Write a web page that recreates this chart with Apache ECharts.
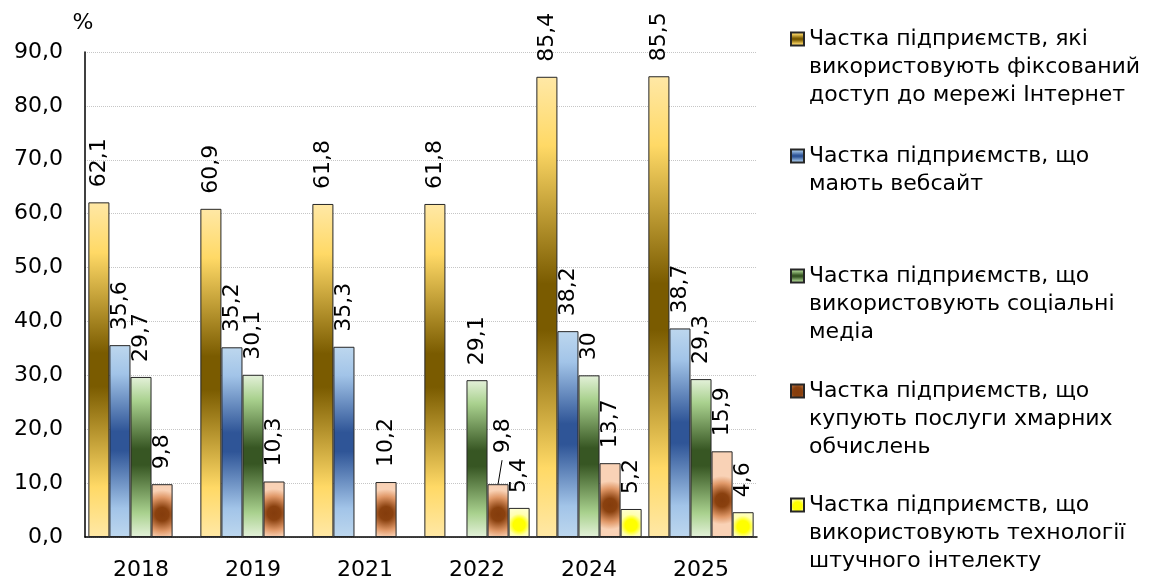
<!DOCTYPE html>
<html>
<head>
<meta charset="utf-8">
<script src="https://cdn.jsdelivr.net/npm/echarts@6/dist/echarts.min.js"></script>
<style>
html,body{margin:0;padding:0;background:#fff;}
#chart{width:1153px;height:581px;}
</style>
</head>
<body>
<div id="chart"></div>
<script>
const categories = ['2018', '2019', '2021', '2022', '2024', '2025'];
const internetValues = [62.1, 60.9, 61.8, 61.8, 85.4, 85.5];
const websiteValues = [35.6, 35.2, 35.3, null, 38.2, 38.7];
const socialValues = [29.7, 30.1, null, 29.1, 30, 29.3];
const cloudValues = [9.8, 10.3, 10.2, 9.8, 13.7, 15.9];
const aiValues = [null, null, null, 5.4, 5.2, 4.6];
const yTicks = [0, 10, 20, 30, 40, 50, 60, 70, 80, 90];

const seriesNames = [
  'Частка підприємств, які\nвикористовують фіксований\nдоступ до мережі Інтернет',
  'Частка підприємств, що\nмають вебсайт',
  'Частка підприємств, що\nвикористовують соціальні\nмедіа',
  'Частка підприємств, що\nкупують послуги хмарних\nобчислень',
  'Частка підприємств, що\nвикористовують технології\nштучного інтелекту'
];

const FONT = 'DejaVu Sans, Liberation Sans, sans-serif';
const FS = 22;
const LH = 28;

function vgrad(light, mid, dark) {
  return new echarts.graphic.LinearGradient(0, 0, 0, 1, [
    {offset: 0, color: light},
    {offset: 0.15, color: mid},
    {offset: 0.45, color: dark},
    {offset: 0.55, color: dark},
    {offset: 0.85, color: mid},
    {offset: 1, color: light}
  ]);
}
const goldFill = vgrad('#ffe8a6', '#ffd966', '#7a5b00');
const blueFill = vgrad('#bdd7ee', '#a2c4e8', '#2f5597');
const greenFill = vgrad('#e4f1da', '#a9d18e', '#375623');
const brownFill = new echarts.graphic.RadialGradient(0.5, 0.57, 1.15, [
  {offset: 0, color: '#843c0c'},
  {offset: 0.28, color: '#8a410f'},
  {offset: 0.7, color: '#e09868'},
  {offset: 1, color: '#f9d2b6'}
]);
const yellowFill = new echarts.graphic.RadialGradient(0.5, 0.58, 0.8, [
  {offset: 0, color: '#ffff00'},
  {offset: 0.35, color: '#ffff00'},
  {offset: 0.65, color: '#ffffb0'},
  {offset: 1, color: '#ffffd0'}
]);

const fills = [goldFill, blueFill, greenFill, brownFill, yellowFill];
const valueSets = [internetValues, websiteValues, socialValues, cloudValues, aiValues];

function fmt(v) { return String(v).replace('.', ','); }

// the one label that is pulled away from its bar (series 3, category 3)
const MOVED = {series: 3, index: 3};

const series = valueSets.map((vals, i) => {
  const data = vals.map((v, j) => {
    if (i === MOVED.series && j === MOVED.index) {
      // offset is in the rotated label frame: [up, right]
      return {value: v, label: {offset: [16, 5]}};
    }
    return v;
  });
  return {
    name: seriesNames[i],
    type: 'bar',
    data: data,
    barGap: '0%',
    barCategoryGap: '6%',
    itemStyle: {color: fills[i], borderColor: '#262626', borderWidth: 1},
    label: {
      show: true,
      position: 'top',
      rotate: 90,
      align: 'left',
      verticalAlign: 'middle',
      distance: 15,
      fontFamily: FONT,
      fontSize: FS,
      color: '#000',
      formatter: p => fmt(p.value)
    }
  };
});

// legend first-line centres
const legendLineCenters = [39, 156, 276, 391, 505];
const legends = seriesNames.map((name, i) => {
  const n = name.split('\n').length;
  return {
    data: [name],
    orient: 'vertical',
    left: 790,
    top: legendLineCenters[i] - ((2 * n - 1) * LH) / 2,
    padding: 0,
    icon: 'rect',
    itemWidth: 13,
    itemHeight: 13,
    selectedMode: false,
    formatter: nm => '\n'.repeat(n - 1) + nm,
    textStyle: {
      fontFamily: FONT,
      fontSize: FS,
      lineHeight: LH,
      color: '#000'
    }
  };
});

const chart = echarts.init(document.getElementById('chart'), null, {renderer: 'canvas'});
chart.setOption({
  animation: false,
  backgroundColor: '#fff',
  grid: {left: 85, right: 396, top: 52, bottom: 40, containLabel: false},
  legend: legends,
  xAxis: {
    type: 'category',
    data: categories,
    axisLine: {lineStyle: {color: '#000', width: 1.5}},
    axisTick: {show: false},
    axisLabel: {fontFamily: FONT, fontSize: FS, color: '#000', margin: 22}
  },
  yAxis: {
    type: 'value',
    min: yTicks[0],
    max: yTicks[yTicks.length - 1],
    interval: yTicks[1] - yTicks[0],
    name: '%',
    nameLocation: 'end',
    nameGap: 18,
    nameTextStyle: {fontFamily: FONT, fontSize: FS, color: '#000', align: 'center', padding: [0, 4, 0, 0]},
    axisLine: {show: true, lineStyle: {color: '#000', width: 1.5}},
    axisTick: {show: false},
    splitLine: {show: true, lineStyle: {color: '#c6c6c6', type: 'dotted', width: 1}},
    axisLabel: {
      fontFamily: FONT, fontSize: FS, color: '#000', margin: 22,
      formatter: v => v.toFixed(1).replace('.', ',')
    }
  },
  series: series
});

// leader line for the moved label, anchored on the bar layout computed by ECharts
const layout = chart.getModel().getSeriesByIndex(MOVED.series).getData().getItemLayout(MOVED.index);
if (layout) {
  const cx = layout.x + layout.width / 2;
  const top = Math.min(layout.y, layout.y + layout.height);
  chart.setOption({
    graphic: [{
      type: 'line',
      z: 100,
      shape: {x1: cx, y1: top, x2: cx + 4, y2: top - 24},
      style: {stroke: '#000', lineWidth: 1}
    }]
  });
}
</script>
</body>
</html>
